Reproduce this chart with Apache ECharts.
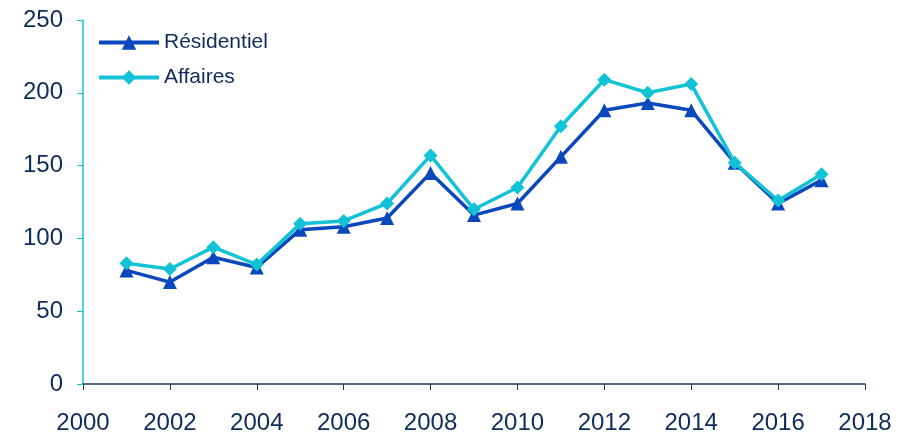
<!DOCTYPE html>
<html>
<head>
<meta charset="utf-8">
<script src="https://cdn.jsdelivr.net/npm/echarts@6/dist/echarts.min.js"></script>
<style>
  html, body { margin: 0; padding: 0; background: #fff; }
  #chart { width: 902px; height: 436px; }
</style>
</head>
<body>
<div id="chart"></div>
<script>
// années et valeurs
const years = [2001, 2002, 2003, 2004, 2005, 2006, 2007, 2008, 2009, 2010, 2011, 2012, 2013, 2014, 2015, 2016, 2017]
const residentiel = [78, 70, 87, 80, 106, 108, 114, 145, 116, 124, 156, 188, 193, 188, 152, 124, 140]
const affaires = [83, 79, 94, 82, 110, 112, 124, 157, 120, 135, 177, 209, 200, 206, 152, 126, 144]

const textColor = '#0f2b5b'
const chart = echarts.init(document.getElementById('chart'))

chart.setOption({
  animation: false,
  grid: { left: 83, right: 37, top: 20, bottom: 52 },
  legend: {
    orient: 'vertical',
    left: 92,
    top: 27,
    itemWidth: 60,
    itemHeight: 18,
    itemGap: 14,
    lineStyle: { width: 4 },
    textStyle: { color: textColor, fontSize: 21, fontFamily: 'Liberation Sans, Arial' },
    data: ['Résidentiel', 'Affaires']
  },
  xAxis: {
    type: 'value',
    min: 2000,
    max: 2018,
    interval: 2,
    splitLine: { show: false },
    axisLine: { lineStyle: { color: '#1f3a5f', width: 1.5 } },
    axisTick: { show: true, length: 6, lineStyle: { color: '#1f3a5f' } },
    axisLabel: {
      color: textColor, fontSize: 24, margin: 27,
      fontFamily: 'Liberation Sans, Arial',
      formatter: v => String(v)
    }
  },
  yAxis: {
    type: 'value',
    min: 0,
    max: 250,
    interval: 50,
    splitLine: { show: false },
    axisLine: { show: true, lineStyle: { color: '#19c3d6', width: 1.5 } },
    axisTick: { show: true, length: 6, lineStyle: { color: '#19c3d6' } },
    axisLabel: {
      color: textColor, fontSize: 24, margin: 20,
      fontFamily: 'Liberation Sans, Arial'
    }
  },
  series: [
    {
      name: 'Résidentiel',
      type: 'line',
      data: years.map((y, i) => [y, residentiel[i]]),
      symbol: 'triangle',
      symbolSize: 14,
      lineStyle: { color: '#0b47bd', width: 3.5 },
      itemStyle: { color: '#0b47bd' },
      z: 2
    },
    {
      name: 'Affaires',
      type: 'line',
      data: years.map((y, i) => [y, affaires[i]]),
      symbol: 'diamond',
      symbolSize: 14,
      lineStyle: { color: '#12c2d6', width: 3.5 },
      itemStyle: { color: '#12c2d6' },
      z: 3
    }
  ]
})
</script>
</body>
</html>
